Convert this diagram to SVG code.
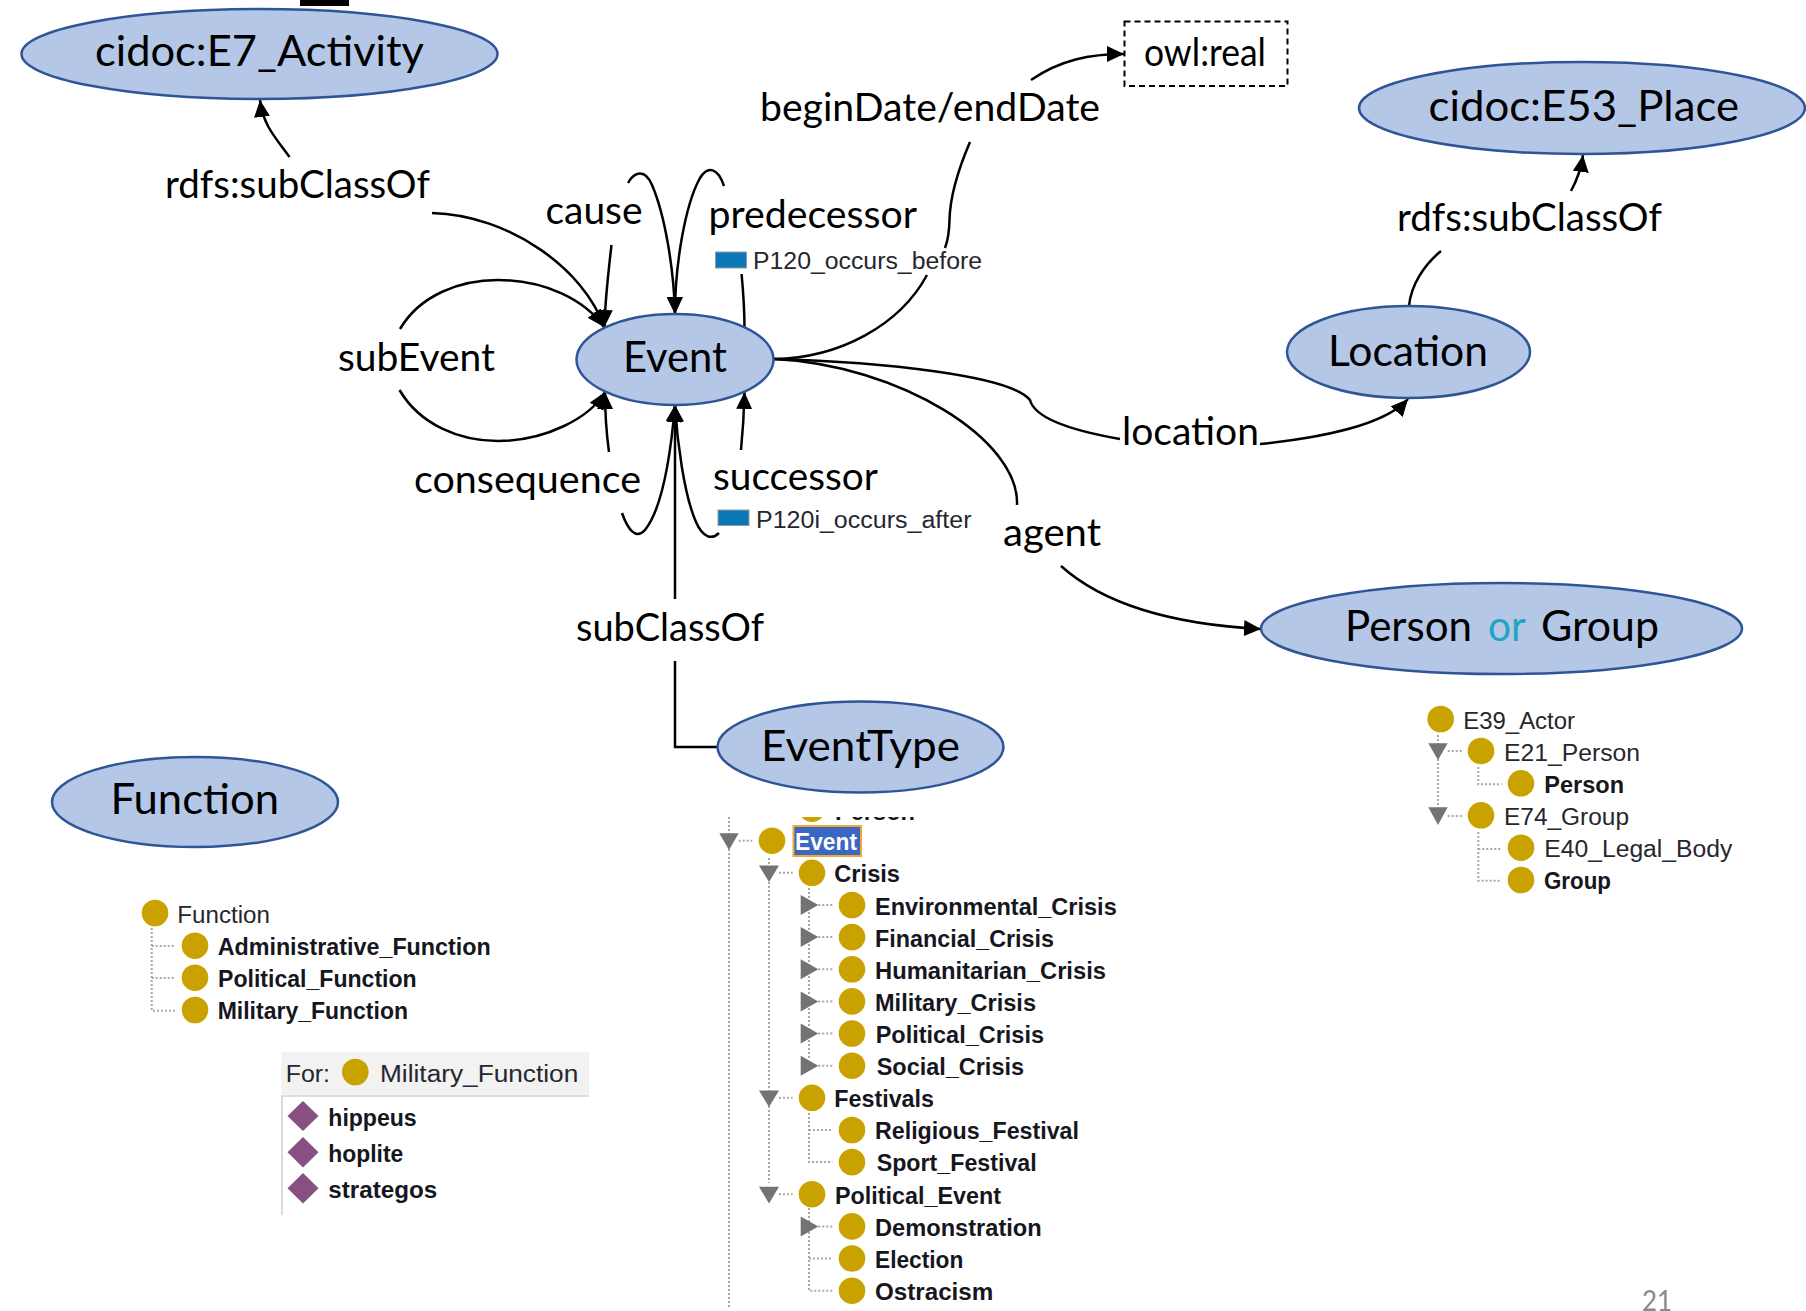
<svg xmlns="http://www.w3.org/2000/svg" width="1806" height="1311" viewBox="0 0 1806 1311">
<style>
.bg{fill:#fff}
.n{fill:#b4c7e7;stroke:#2f5597;stroke-width:2.5}
.big{font-family:Lato,"Liberation Sans",sans-serif;font-size:43px;fill:#000}
.lab{font-family:Lato,"Liberation Sans",sans-serif;font-size:39px;fill:#000}
.c{fill:none;stroke:#000;stroke-width:2.5}
.b{font-family:"Liberation Sans",Arial,sans-serif;font-size:23px;font-weight:700;fill:#16161e}
.r{font-family:"Liberation Sans",Arial,sans-serif;font-size:23px;fill:#26262e}
.o{fill:#c9a200}
.t{fill:#737373}
.d{fill:none;stroke:#a8a8a8;stroke-width:2;stroke-dasharray:2 2}
.dm{fill:#885080}
</style>
<defs>
<marker id="a" viewBox="0 0 17 16" refX="17" refY="8" markerWidth="17" markerHeight="16" markerUnits="userSpaceOnUse" orient="auto"><path d="M0 0L17 8L0 16z" fill="#000"/></marker>
<clipPath id="topclip"><rect x="700" y="817" width="300" height="5"/></clipPath>
</defs>
<rect class="bg" width="1806" height="1311"/>
<rect x="300" y="0" width="49" height="6" fill="#000"/>
<g id="connectors">
<path class="c" marker-end="url(#a)" d="M289.500 157C275 137 263 125 260 100"/>
<path class="c" marker-end="url(#a)" d="M432 213C510 215 585 270 604 327"/>
<path class="c" marker-end="url(#a)" d="M611.500 245C608 275 605 300 604.500 327"/>
<path class="c" marker-end="url(#a)" d="M628 183C634 172 645 168 652 185C665 215 674 270 675 314"/>
<path class="c" marker-end="url(#a)" d="M724 186C718 168 708 165 700 178C685 205 675 265 675 314"/>
<path class="c" d="M741.600 274C743.500 295 744.500 310 744.500 328"/>
<path class="c" marker-end="url(#a)" d="M400 329C420 295 460 280 498 280C545 280 585 300 604 327"/>
<path class="c" marker-end="url(#a)" d="M399.500 390C420 425 460 441 498 441C545 441 590 418 605 392"/>
<path class="c" marker-end="url(#a)" d="M609 452C606 430 605 415 605 392"/>
<path class="c" marker-end="url(#a)" d="M622 513C628 530 636 540 645 530C665 505 672 440 675 405"/>
<path class="c" marker-end="url(#a)" d="M719 533C712 540 703 538 696 522C684 495 677 440 675 405"/>
<path class="c" marker-end="url(#a)" d="M675 599V405"/>
<path class="c" d="M675 661V747H718"/>
<path class="c" marker-end="url(#a)" d="M741 450C743 430 744 415 744.500 392"/>
<path class="c" marker-end="url(#a)" d="M1031 80C1060 60 1090 54 1124 54"/>
<path class="c" d="M970 142C958 170 950 195 949.500 220C949.300 230 948 240 945 248"/>
<path class="c" d="M927 275C900 325 840 358 774 359"/>
<path class="c" d="M774 359C880 362 1010 375 1030 400C1035 420 1080 432 1120 439"/>
<path class="c" marker-end="url(#a)" d="M1260 444C1320 438 1385 425 1408 399"/>
<path class="c" d="M774 359C900 365 1020 440 1017 505"/>
<path class="c" marker-end="url(#a)" d="M1061 566C1110 610 1185 625 1261 629"/>
<path class="c" d="M1409 306C1411 285 1424 265 1441 251"/>
<path class="c" marker-end="url(#a)" d="M1571 191C1577 180 1581 170 1583 155"/>
</g>
<g id="node-e7"><ellipse class="n" cx="259.500" cy="54" rx="238" ry="45"/><text class="big" x="95" y="65.500" textLength="329" lengthAdjust="spacingAndGlyphs">cidoc:E7_Activity</text></g>
<g id="node-event"><ellipse class="n" cx="675" cy="359.500" rx="98.500" ry="45.500"/><text class="big" x="623" y="371.700" textLength="104" lengthAdjust="spacingAndGlyphs">Event</text></g>
<g id="node-location"><ellipse class="n" cx="1408.500" cy="352" rx="121.500" ry="46"/><text class="big" x="1328" y="365.500" textLength="160" lengthAdjust="spacingAndGlyphs">Location</text></g>
<g id="node-e53"><ellipse class="n" cx="1582" cy="108" rx="223" ry="46"/><text class="big" x="1428.500" y="121" textLength="310.500" lengthAdjust="spacingAndGlyphs">cidoc:E53_Place</text></g>
<g id="node-persongroup"><ellipse class="n" cx="1501.500" cy="628.500" rx="240.500" ry="45.500"/><text class="big" y="640.500"><tspan x="1345" textLength="127" lengthAdjust="spacingAndGlyphs">Person</tspan> <tspan x="1488" textLength="37" lengthAdjust="spacingAndGlyphs" fill="#1fa5bf">or</tspan> <tspan x="1541" textLength="118" lengthAdjust="spacingAndGlyphs">Group</tspan></text></g>
<g id="node-eventtype"><ellipse class="n" cx="860.500" cy="747" rx="143" ry="45.500"/><text class="big" x="761" y="760.500" textLength="199" lengthAdjust="spacingAndGlyphs">EventType</text></g>
<g id="node-function"><ellipse class="n" cx="195" cy="802" rx="143" ry="45"/><text class="big" x="110.500" y="813.500" textLength="168.500" lengthAdjust="spacingAndGlyphs">Function</text></g>
<g id="node-owlreal"><rect x="1124.500" y="21.500" width="163" height="64.500" fill="#fff" stroke="#000" stroke-width="2" stroke-dasharray="6 4"/><text class="lab" x="1144" y="66" textLength="122" lengthAdjust="spacingAndGlyphs">owl:real</text></g>
<g id="labels">
<text class="lab" x="165" y="197.500" textLength="265" lengthAdjust="spacingAndGlyphs">rdfs:subClassOf</text>
<text class="lab" x="545.500" y="224" textLength="97" lengthAdjust="spacingAndGlyphs">cause</text>
<text class="lab" x="708.500" y="228" textLength="208.500" lengthAdjust="spacingAndGlyphs">predecessor</text>
<text class="lab" x="338" y="370.500" textLength="157" lengthAdjust="spacingAndGlyphs">subEvent</text>
<text class="lab" x="414" y="492.700" textLength="227" lengthAdjust="spacingAndGlyphs">consequence</text>
<text class="lab" x="713" y="490" textLength="165" lengthAdjust="spacingAndGlyphs">successor</text>
<text class="lab" x="1003" y="545.500" textLength="98" lengthAdjust="spacingAndGlyphs">agent</text>
<text class="lab" x="1122" y="444.500" textLength="137" lengthAdjust="spacingAndGlyphs">location</text>
<text class="lab" x="760" y="120.500" textLength="340" lengthAdjust="spacingAndGlyphs">beginDate/endDate</text>
<text class="lab" x="1397" y="231" textLength="265" lengthAdjust="spacingAndGlyphs">rdfs:subClassOf</text>
<text class="lab" x="576" y="640.500" textLength="188" lengthAdjust="spacingAndGlyphs">subClassOf</text>
<rect x="715.500" y="252" width="31" height="16" fill="#0a78b8" stroke="#999" stroke-width="1"/>
<text class="r" x="753" y="269" textLength="229" lengthAdjust="spacingAndGlyphs">P120_occurs_before</text>
<rect x="718" y="510" width="31" height="15.500" fill="#0a78b8" stroke="#999" stroke-width="1"/>
<text class="r" x="756" y="528" textLength="215.500" lengthAdjust="spacingAndGlyphs">P120i_occurs_after</text>
</g>
<g id="tree-function">
<path class="d" d="M151.700 928V1010.700H175.700M151.700 946H175.700M151.700 978H175.700"/>
<circle class="o" cx="155" cy="913" r="13.300"/><circle class="o" cx="195" cy="945.700" r="13.300"/><circle class="o" cx="195" cy="977.700" r="13.300"/><circle class="o" cx="195" cy="1010" r="13.300"/>
<text class="r" x="177.300" y="922.700" textLength="92.700" lengthAdjust="spacingAndGlyphs">Function</text>
<text class="b" x="217.700" y="955" textLength="273" lengthAdjust="spacingAndGlyphs">Administrative_Function</text>
<text class="b" x="218" y="987" textLength="198.700" lengthAdjust="spacingAndGlyphs">Political_Function</text>
<text class="b" x="217.700" y="1019" textLength="190.300" lengthAdjust="spacingAndGlyphs">Military_Function</text>
</g>
<g id="panel-individuals">
<rect x="281.300" y="1052.300" width="307.700" height="42.700" fill="#f2f2f2"/>
<path d="M281.300 1096H589" stroke="#dedede" stroke-width="2" fill="none"/>
<path d="M282 1096V1215" stroke="#cfcfcf" stroke-width="1.500" fill="none"/>
<text class="r" x="285.700" y="1081.700" textLength="44.300" lengthAdjust="spacingAndGlyphs">For:</text>
<circle class="o" cx="355.300" cy="1072" r="13.300"/>
<text class="r" x="380" y="1081.700" textLength="198.300" lengthAdjust="spacingAndGlyphs">Military_Function</text>
<path class="dm" d="M303 1101L318.500 1116L303 1131L287.500 1116z"/>
<path class="dm" d="M303 1137L318.500 1152.300L303 1167.600L287.500 1152.300z"/>
<path class="dm" d="M303 1173L318.500 1188.300L303 1203.600L287.500 1188.300z"/>
<text class="b" x="328.300" y="1125.700" textLength="88.400" lengthAdjust="spacingAndGlyphs">hippeus</text>
<text class="b" x="328.300" y="1161.700" textLength="75" lengthAdjust="spacingAndGlyphs">hoplite</text>
<text class="b" x="328.300" y="1198.300" textLength="109" lengthAdjust="spacingAndGlyphs">strategos</text>
</g>
<g id="tree-actor">
<path class="d" d="M1438 735V807M1447.700 751H1461.700M1447.700 816H1461.700M1478.300 767V784.300H1501.700M1478.300 832V880.700H1501.700M1478.300 849H1501.700"/>
<path class="t" d="M1428.300 743.300H1447.700L1438 760z"/><path class="t" d="M1428.300 807.300H1447.700L1438 825z"/>
<circle class="o" cx="1440.700" cy="719" r="13.300"/><circle class="o" cx="1481" cy="751" r="13.300"/><circle class="o" cx="1521" cy="783.300" r="13.300"/><circle class="o" cx="1481" cy="815.300" r="13.300"/><circle class="o" cx="1521" cy="847.700" r="13.300"/><circle class="o" cx="1521" cy="880" r="13.300"/>
<text class="r" x="1463.300" y="729" textLength="111.700" lengthAdjust="spacingAndGlyphs">E39_Actor</text>
<text class="r" x="1504" y="761" textLength="136" lengthAdjust="spacingAndGlyphs">E21_Person</text>
<text class="b" x="1544.300" y="793.300" textLength="79.700" lengthAdjust="spacingAndGlyphs">Person</text>
<text class="r" x="1504" y="825" textLength="125" lengthAdjust="spacingAndGlyphs">E74_Group</text>
<text class="r" x="1544.300" y="857.300" textLength="188" lengthAdjust="spacingAndGlyphs">E40_Legal_Body</text>
<text class="b" x="1544" y="889.300" textLength="67" lengthAdjust="spacingAndGlyphs">Group</text>
</g>
<g id="tree-event">
<path class="d" d="M729 817V1307M738.700 840.700H752.300M769 858V1183M779 872.800H792.700M779 1097.800H792.700M779 1194.200H792.700M809 888V1060M818.300 905H832.300M818.300 937.100H832.300M818.300 969.300H832.300M818.300 1001.400H832.300M818.300 1033.500H832.300M818.300 1065.700H832.300M809 1113V1162.100H832.300M809 1130H832.300M809 1208V1290.700H832.300M818.300 1226.400H832.300M809 1258.500H832.300"/>
<g clip-path="url(#topclip)"><circle class="o" cx="812" cy="808.600" r="13.300"/><text class="b" x="835" y="820" textLength="80" lengthAdjust="spacingAndGlyphs">Person</text></g>
<path class="t" d="M719.300 833.300H738.700L729 850z"/><path class="t" d="M759 865.400H779L769 882.100z"/><path class="t" d="M759 1090.400H779L769 1107.100z"/><path class="t" d="M759 1186.800H779L769 1203.500z"/>
<path class="t" d="M800.700 895L818.300 905L800.700 915z"/><path class="t" d="M800.700 927.100L818.300 937.100L800.700 947.100z"/><path class="t" d="M800.700 959.300L818.300 969.300L800.700 979.300z"/><path class="t" d="M800.700 991.400L818.300 1001.400L800.700 1011.400z"/><path class="t" d="M800.700 1023.500L818.300 1033.500L800.700 1043.500z"/><path class="t" d="M800.700 1055.700L818.300 1065.700L800.700 1075.700z"/><path class="t" d="M800.700 1216.400L818.300 1226.400L800.700 1236.400z"/>
<circle class="o" cx="772" cy="840.700" r="13.300"/><circle class="o" cx="812" cy="872.800" r="13.300"/><circle class="o" cx="852" cy="905" r="13.300"/><circle class="o" cx="852" cy="937.100" r="13.300"/><circle class="o" cx="852" cy="969.300" r="13.300"/><circle class="o" cx="852" cy="1001.400" r="13.300"/><circle class="o" cx="852" cy="1033.500" r="13.300"/><circle class="o" cx="852" cy="1065.700" r="13.300"/><circle class="o" cx="812" cy="1097.800" r="13.300"/><circle class="o" cx="852" cy="1130" r="13.300"/><circle class="o" cx="852" cy="1162.100" r="13.300"/><circle class="o" cx="812" cy="1194.200" r="13.300"/><circle class="o" cx="852" cy="1226.400" r="13.300"/><circle class="o" cx="852" cy="1258.500" r="13.300"/><circle class="o" cx="852" cy="1290.700" r="13.300"/>
<rect x="793.500" y="826" width="67.500" height="30" fill="#3a66c4" stroke="#f0a830" stroke-width="2"/>
<text class="b" x="795" y="850" textLength="62" lengthAdjust="spacingAndGlyphs" style="fill:#fff">Event</text>
<text class="b" x="834.300" y="882" textLength="65.700" lengthAdjust="spacingAndGlyphs">Crisis</text>
<text class="b" x="875" y="914.500" textLength="241.700" lengthAdjust="spacingAndGlyphs">Environmental_Crisis</text>
<text class="b" x="875" y="946.500" textLength="179" lengthAdjust="spacingAndGlyphs">Financial_Crisis</text>
<text class="b" x="875" y="978.700" textLength="231" lengthAdjust="spacingAndGlyphs">Humanitarian_Crisis</text>
<text class="b" x="875" y="1010.700" textLength="161" lengthAdjust="spacingAndGlyphs">Military_Crisis</text>
<text class="b" x="875.700" y="1042.800" textLength="168.300" lengthAdjust="spacingAndGlyphs">Political_Crisis</text>
<text class="b" x="876.700" y="1075" textLength="147.300" lengthAdjust="spacingAndGlyphs">Social_Crisis</text>
<text class="b" x="834.300" y="1107" textLength="99.700" lengthAdjust="spacingAndGlyphs">Festivals</text>
<text class="b" x="875" y="1139.300" textLength="204" lengthAdjust="spacingAndGlyphs">Religious_Festival</text>
<text class="b" x="876.700" y="1171.300" textLength="160" lengthAdjust="spacingAndGlyphs">Sport_Festival</text>
<text class="b" x="835" y="1203.500" textLength="166" lengthAdjust="spacingAndGlyphs">Political_Event</text>
<text class="b" x="875" y="1235.500" textLength="166.700" lengthAdjust="spacingAndGlyphs">Demonstration</text>
<text class="b" x="875" y="1267.500" textLength="88.300" lengthAdjust="spacingAndGlyphs">Election</text>
<text class="b" x="875" y="1299.500" textLength="118.300" lengthAdjust="spacingAndGlyphs">Ostracism</text>
</g>
<text id="page" x="1642" y="1310.500" font-family="Lato,'Liberation Sans',sans-serif" font-size="28" fill="#8a8a8a" textLength="30" lengthAdjust="spacingAndGlyphs">21</text>
</svg>
